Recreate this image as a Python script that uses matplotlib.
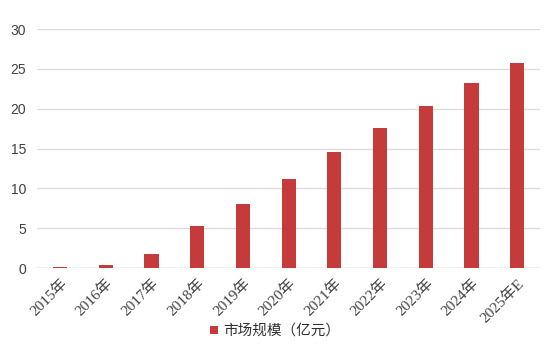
import matplotlib
matplotlib.use('Agg')
import matplotlib.pyplot as plt

years = ['2015年', '2016年', '2017年', '2018年', '2019年', '2020年',
         '2021年', '2022年', '2023年', '2024年', '2025年E']
market = [0.15, 0.4, 1.8, 5.3, 8.1, 11.2, 14.6, 17.65, 20.4, 23.25, 25.75]
yticks = [0, 5, 10, 15, 20, 25, 30]

plt.rcParams['font.family'] = ['Liberation Sans', 'Noto Sans CJK SC']

fig = plt.figure(figsize=(5.54, 3.51), dpi=100)
ax = fig.add_axes([0.067, 0.236, 0.908, 0.681])

x = range(len(years))
ax.bar(x, market, width=0.31, color='#C53B3B', label='市场规模（亿元）', zorder=3)

ax.set_xlim(-0.5, len(years) - 0.5)
ax.set_ylim(0, 30)
ax.set_yticks(yticks)
ax.grid(axis='y', color='#dcdcdc', linewidth=1, zorder=0)
for s in ax.spines.values():
    s.set_visible(False)
ax.axhline(0, color='#d0d0d0', linewidth=1, zorder=2)

ax.tick_params(axis='both', length=0, colors='#404040')
ax.tick_params(axis='y', labelsize=10, pad=8)
ax.set_xticks(list(x))
ax.set_xticklabels(years, rotation=45, ha='right', rotation_mode='anchor',
                   family=['Liberation Serif', 'Noto Sans CJK SC'], fontsize=11)
ax.tick_params(axis='x', pad=6)

leg = fig.legend(loc='center', bbox_to_anchor=(0.497, 0.057), frameon=False,
                 handlelength=0.5, handleheight=0.5, handletextpad=0.4,
                 prop={'family': ['Noto Sans CJK SC'], 'size': 10.5})
for t in leg.get_texts():
    t.set_color('#303030')

fig.savefig('out.png', dpi=100, facecolor='white')
